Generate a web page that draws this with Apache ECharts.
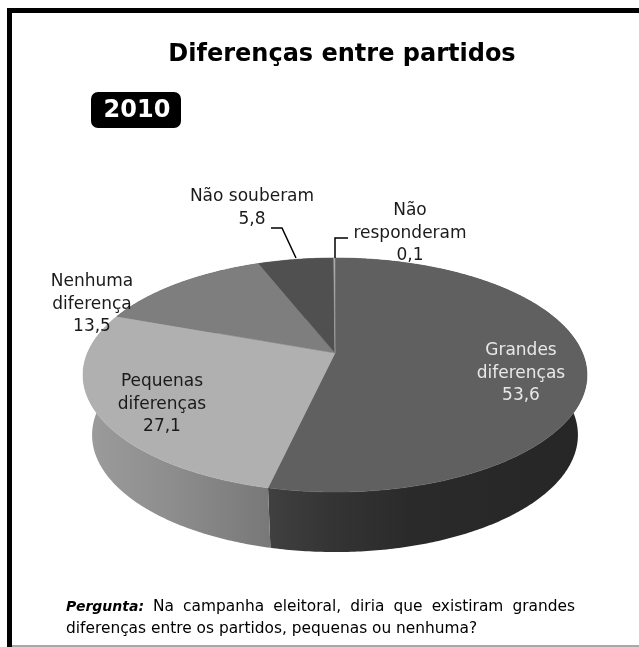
<!DOCTYPE html>
<html>
<head>
<meta charset="utf-8">
<title>Diferenças entre partidos</title>
<script src="https://cdn.jsdelivr.net/npm/echarts@6/dist/echarts.min.js"></script>
<style>
  html, body { margin: 0; padding: 0; background: #fff; }
  #main { width: 639px; height: 647px; }
</style>
</head>
<body>
<div id="main"></div>
<script>
var categories = ['Grandes diferenças', 'Pequenas diferenças', 'Nenhuma diferença', 'Não souberam', 'Não responderam'];
var values = [53.6, 27.1, 13.5, 5.8, 0.1];
var valueTexts = ['53,6', '27,1', '13,5', '5,8', '0,1'];
var questionWords = ['Na', 'campanha', 'eleitoral,', 'diria', 'que', 'existiram', 'grandes'];

var FONT = '"DejaVu Sans", sans-serif';
var topColors = ['#606060', '#b0b0b0', '#7e7e7e', '#505050', '#a8a8a8'];
var labelColors = ['#e8e8e8', '#1a1a1a', '#1a1a1a', '#1a1a1a', '#1a1a1a'];
// linhas de cada rótulo, centro x e y da primeira linha
var labelLines = [['Grandes', 'diferenças'], ['Pequenas', 'diferenças'], ['Nenhuma', 'diferença'], ['Não souberam'], ['Não', 'responderam']];
var labelPos = [[521, 351], [162, 382], [92, 282], [252, 197], [410, 211]];

// projecção em perspectiva do disco
var CX = 335, APEX_Y = 353, APEX_Y_BASE = 413;
var A = 247.5, B = 112.9, K = 0.188, BASE_SCALE = 0.964;

var total = 0;
values.forEach(function (v) { total += v; });

function rimPoint(theta, base) {
  var u = Math.sin(theta), v = -Math.cos(theta), w = 1 - K * v;
  var s = base ? BASE_SCALE : 1;
  return [CX + s * A * u / w, (base ? APEX_Y_BASE : APEX_Y) + B * v / w];
}

function sliceAngles(i) {
  var before = 0;
  for (var j = 0; j < i; j++) before += values[j];
  return [before / total * Math.PI * 2, (before + values[i]) / total * Math.PI * 2];
}

function arcPoints(a0, a1, base) {
  var pts = [], n = Math.max(2, Math.ceil((a1 - a0) * 90));
  for (var k = 0; k <= n; k++) pts.push(rimPoint(a0 + (a1 - a0) * k / n, base));
  return pts;
}

function sideItem(params, api) {
  var i = api.value(0), a = sliceAngles(i);
  var top = arcPoints(a[0], a[1], false);
  var pts = top.concat(arcPoints(a[0], a[1], true).reverse());
  var fill;
  if (i === 0) {
    fill = new echarts.graphic.LinearGradient(0, 0, 1, 0, [
      { offset: 0, color: '#404040' },
      { offset: 0.2, color: '#343434' },
      { offset: 0.45, color: '#2a2a2a' },
      { offset: 1, color: '#262626' }
    ]);
  } else if (i === 1) {
    fill = new echarts.graphic.LinearGradient(0, 0, 1, 0, [
      { offset: 0, color: '#9c9c9c' },
      { offset: 0.45, color: '#8e8e8e' },
      { offset: 1, color: '#787878' }
    ]);
  } else {
    fill = '#444';
  }
  return { type: 'polygon', shape: { points: pts }, style: { fill: fill, stroke: null } };
}

function topItem(params, api) {
  var i = api.value(0), a = sliceAngles(i);
  var pts = [[CX, APEX_Y]].concat(arcPoints(a[0], a[1], false));
  return {
    type: 'polygon',
    shape: { points: pts },
    style: { fill: topColors[i], stroke: topColors[i], lineWidth: 0.5 }
  };
}

function labelItem(params, api) {
  var i = api.value(0);
  var lines = labelLines[i].concat(valueTexts[i]);
  return {
    type: 'text',
    x: labelPos[i][0],
    y: labelPos[i][1] - 11.5,
    style: {
      text: lines.join('\n'),
      fill: labelColors[i],
      font: '17px ' + FONT,
      lineHeight: 22.5,
      align: 'center',
      verticalAlign: 'top'
    }
  };
}

// primeira linha da pergunta justificada entre x0 e x1
function justifiedWords(words, x0, x1, y, font) {
  var ctx = document.createElement('canvas').getContext('2d');
  ctx.font = font;
  var widths = words.map(function (w) { return ctx.measureText(w).width; });
  var used = widths.reduce(function (s, w) { return s + w; }, 0);
  var gap = (x1 - x0 - used) / (words.length - 1);
  var x = x0;
  return words.map(function (w, i) {
    var el = { type: 'text', z: 5, x: x, y: y, style: { text: w, font: font, fill: '#000', verticalAlign: 'middle' } };
    x += widths[i] + gap;
    return el;
  });
}

var sliceData = values.map(function (v, i) {
  return { name: categories[i], value: [i, v] };
});

var graphics = [
  { type: 'rect', z: 0, shape: { x: 7, y: 8, width: 632, height: 5 }, style: { fill: '#000' } },
  { type: 'rect', z: 0, shape: { x: 7, y: 8, width: 5, height: 639 }, style: { fill: '#000' } },
  { type: 'rect', z: 0, shape: { x: 12, y: 645, width: 627, height: 2 }, style: { fill: '#a8a8a8' } },
  { type: 'text', z: 5, x: 342, y: 55, style: { text: 'Diferenças entre partidos', font: 'bold 24px ' + FONT, fill: '#000', align: 'center', verticalAlign: 'middle' } },
  { type: 'rect', z: 5, shape: { x: 91, y: 92, width: 90, height: 36, r: 7 }, style: { fill: '#000' } },
  { type: 'text', z: 6, x: 137, y: 111, style: { text: '2010', font: 'bold 24px ' + FONT, fill: '#fff', align: 'center', verticalAlign: 'middle' } },
  { type: 'polyline', z: 5, shape: { points: [[271, 228], [282, 228], [296, 258]] }, style: { stroke: '#000', lineWidth: 1.5, fill: null } },
  { type: 'polyline', z: 5, shape: { points: [[348, 238], [335, 238], [335, 258]] }, style: { stroke: '#000', lineWidth: 1.5, fill: null } },
  { type: 'text', z: 5, x: 66, y: 607, style: { text: 'Pergunta:', font: 'italic bold 14px ' + FONT, fill: '#000', verticalAlign: 'middle' } },
  { type: 'text', z: 5, x: 66, y: 629, style: { text: 'diferenças entre os partidos, pequenas ou nenhuma?', font: '15.4px ' + FONT, fill: '#000', verticalAlign: 'middle' } }
].concat(justifiedWords(questionWords, 153, 575, 607, '15.4px ' + FONT));

var myChart = echarts.init(document.getElementById('main'));
var option = {
  backgroundColor: '#fff',
  animation: false,
  series: [
    { type: 'custom', coordinateSystem: 'none', silent: true, z: 1, renderItem: sideItem, data: sliceData },
    { type: 'custom', coordinateSystem: 'none', silent: true, z: 2, renderItem: topItem, data: sliceData },
    { type: 'custom', coordinateSystem: 'none', silent: true, z: 3, renderItem: labelItem, data: sliceData }
  ],
  graphic: graphics
};
myChart.setOption(option, true);
window.addEventListener('resize', function () {
  myChart.resize();
});
</script>
</body>
</html>
